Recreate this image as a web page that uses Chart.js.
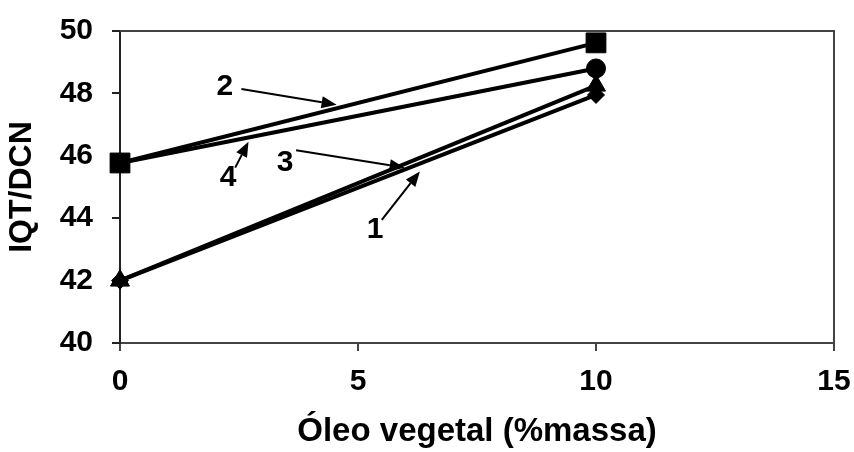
<!DOCTYPE html>
<html>
<head>
<meta charset="utf-8">
<script src="https://cdn.jsdelivr.net/npm/chart.js@4.4.3/dist/chart.umd.min.js"></script>
<style>
  html, body { margin: 0; padding: 0; background: #fff; }
  #wrap { width: 854px; height: 452px; }
</style>
</head>
<body>
<div id="wrap"><canvas id="chart"></canvas></div>
<script>
// values
const xValues = [0, 10];
const series1 = [42.0, 47.95];  // diamonds
const series2 = [45.77, 49.62]; // squares
const series3 = [42.0, 48.25];  // triangles
const series4 = [45.77, 48.8];  // circles
const xTicks = [0, 5, 10, 15];
const yTicks = [40, 42, 44, 46, 48, 50];

// numbered call-outs with arrows (data coordinates)
const callouts = [
  { text: '2', at: [2.2, 48.2], from: [2.55, 48.14], to: [4.55, 47.64] },
  { text: '4', at: [2.27, 45.3], from: [2.42, 45.62], to: [2.7, 46.45] },
  { text: '3', at: [3.47, 45.77], from: [3.7, 46.18], to: [5.98, 45.62] },
  { text: '1', at: [5.36, 43.62], from: [5.5, 43.95], to: [6.3, 45.5] }
];

const FONT = "'Liberation Sans', Arial, sans-serif";
const toPoints = ys => xValues.map((x, i) => ({ x: x, y: ys[i] }));

function line(data, style, radius) {
  return {
    data: toPoints(data),
    borderColor: '#000',
    backgroundColor: '#000',
    borderWidth: 4,
    pointStyle: style,
    pointRadius: radius,
    pointBackgroundColor: '#000',
    pointBorderColor: '#000',
    pointBorderWidth: 1,
    clip: false
  };
}

const framePlugin = {
  id: 'frame',
  afterDraw(chart) {
    const { ctx, chartArea: a } = chart;
    ctx.save();
    ctx.strokeStyle = '#444';
    ctx.lineWidth = 2;
    ctx.beginPath();
    ctx.moveTo(a.left, a.top);
    ctx.lineTo(a.right, a.top);
    ctx.lineTo(a.right, a.bottom);
    ctx.stroke();
    ctx.restore();
  }
};

const calloutPlugin = {
  id: 'callouts',
  afterDatasetsDraw(chart) {
    const { ctx } = chart;
    const xs = chart.scales.x, ys = chart.scales.y;
    const px = p => [xs.getPixelForValue(p[0]), ys.getPixelForValue(p[1])];
    ctx.save();
    ctx.fillStyle = '#000';
    ctx.strokeStyle = '#000';
    ctx.font = 'bold 30px ' + FONT;
    ctx.textAlign = 'center';
    ctx.textBaseline = 'middle';
    callouts.forEach(c => {
      const [tx, ty] = px(c.at);
      ctx.fillText(c.text, tx, ty);
      const [x0, y0] = px(c.from);
      const [x1, y1] = px(c.to);
      const ang = Math.atan2(y1 - y0, x1 - x0);
      const len = 15, half = 6;
      const bx = x1 - len * Math.cos(ang), by = y1 - len * Math.sin(ang);
      ctx.lineWidth = 2;
      ctx.beginPath();
      ctx.moveTo(x0, y0);
      ctx.lineTo(bx, by);
      ctx.stroke();
      ctx.beginPath();
      ctx.moveTo(x1, y1);
      ctx.lineTo(bx + half * Math.sin(ang), by - half * Math.cos(ang));
      ctx.lineTo(bx - half * Math.sin(ang), by + half * Math.cos(ang));
      ctx.closePath();
      ctx.fill();
    });
    ctx.restore();
  }
};

new Chart(document.getElementById('chart'), {
  type: 'line',
  data: {
    datasets: [
      line(series2, 'rect', 14),
      line(series3, 'triangle', 11),
      line(series4, 'circle', 9.5),
      line(series1, 'rectRot', 8.5)
    ]
  },
  options: {
    responsive: true,
    maintainAspectRatio: false,
    animation: false,
    layout: { padding: { left: 0, right: 20, top: 31, bottom: 0 } },
    plugins: { legend: { display: false }, tooltip: { enabled: false } },
    scales: {
      x: {
        type: 'linear',
        min: 0,
        max: 15,
        afterBuildTicks: s => { s.ticks = xTicks.map(v => ({ value: v })); },
        afterFit: s => { s.height = 109; s.paddingLeft = 0; s.paddingRight = 0; },
        grid: { drawOnChartArea: false, drawTicks: true, tickLength: 8, color: '#444', lineWidth: 2 },
        border: { display: true, color: '#444', width: 2 },
        ticks: { color: '#000', font: { family: FONT, size: 30, weight: 'bold' }, padding: 13 },
        title: {
          display: true,
          text: 'Óleo vegetal (%massa)',
          color: '#000',
          font: { family: FONT, size: 33, weight: 'bold' },
          padding: { top: 7, bottom: 0 }
        }
      },
      y: {
        min: 40,
        max: 50,
        afterBuildTicks: s => { s.ticks = yTicks.map(v => ({ value: v })); },
        afterFit: s => { s.width = 120; s.paddingTop = 0; s.paddingBottom = 0; },
        grid: { drawOnChartArea: false, drawTicks: true, tickLength: 8, color: '#222', lineWidth: 2 },
        border: { display: true, color: '#222', width: 2 },
        ticks: { color: '#000', font: { family: FONT, size: 30, weight: 'bold' }, padding: 19 },
        title: {
          display: true,
          text: 'IQT/DCN',
          color: '#000',
          font: { family: FONT, size: 32, weight: 'bold' },
          padding: { top: 3, bottom: 0 }
        }
      }
    }
  },
  plugins: [framePlugin, calloutPlugin]
});
</script>
</body>
</html>
